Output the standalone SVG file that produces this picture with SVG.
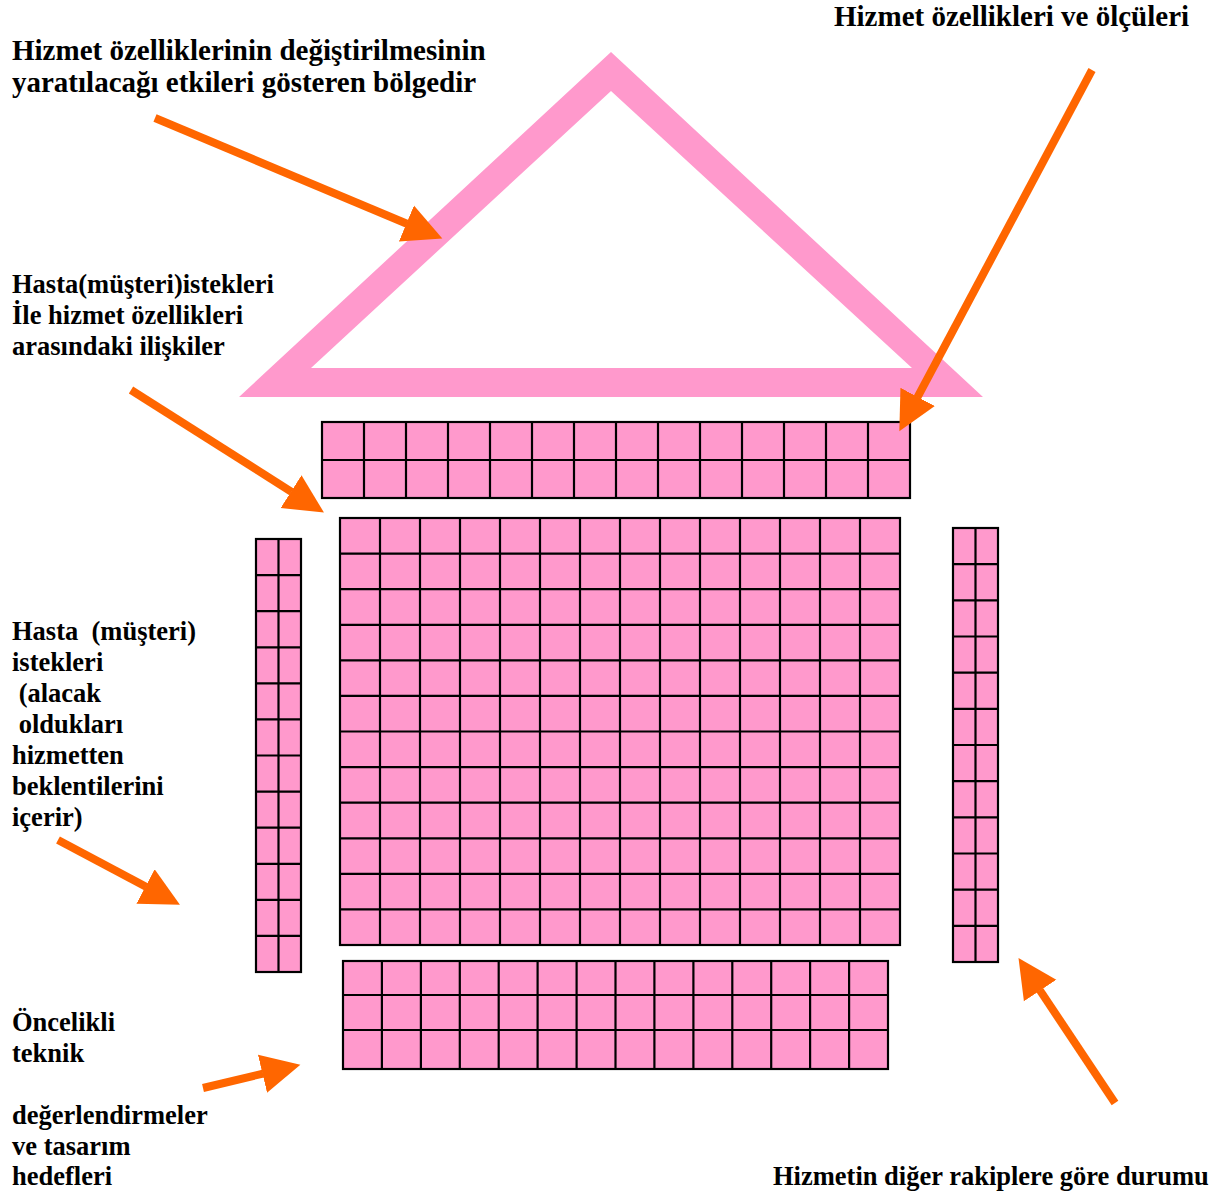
<svg xmlns="http://www.w3.org/2000/svg" width="1224" height="1193" viewBox="0 0 1224 1193">
<style>
.cell{fill:#FF99CC;stroke:#000;stroke-width:2.2}
.gl{fill:none;stroke:#000;stroke-width:2.2}
.lbl{font-family:"Liberation Serif","Times New Roman",serif;font-weight:bold;font-size:26.5px;fill:#000}
.big{font-size:29px}
.arr{fill:none;stroke:#FF6600;stroke-width:8;marker-end:url(#ah)}
</style>
<defs>
<marker id="ah" markerUnits="userSpaceOnUse" markerWidth="40" markerHeight="40" viewBox="0 -19 38 38" refX="0.5" refY="0" orient="auto">
<path d="M0,-18.5 L37,0 L0,18.5 Z" fill="#FF6600"/>
</marker>
</defs>
<rect width="1224" height="1193" fill="#fff"/>
<g id="roof">
<path d="M611,52 L239,397 L983,397 Z M611,91 L912,368 L311,368 Z" fill="#FF99CC" fill-rule="evenodd"/>
</g>
<g id="grid-top">
<rect class="cell" x="322" y="422" width="588" height="76"/>
<path class="gl" d="M322,460H910 M364,422V498 M406,422V498 M448,422V498 M490,422V498 M532,422V498 M574,422V498 M616,422V498 M658,422V498 M700,422V498 M742,422V498 M784,422V498 M826,422V498 M868,422V498"/>
</g>
<g id="grid-main">
<rect class="cell" x="340" y="518" width="560" height="427"/>
<path class="gl" d="M380,518V945 M420,518V945 M460,518V945 M500,518V945 M540,518V945 M580,518V945 M620,518V945 M660,518V945 M700,518V945 M740,518V945 M780,518V945 M820,518V945 M860,518V945 M340,553.6H900 M340,589.2H900 M340,624.8H900 M340,660.3H900 M340,695.9H900 M340,731.5H900 M340,767.1H900 M340,802.7H900 M340,838.3H900 M340,873.8H900 M340,909.4H900"/>
</g>
<g id="grid-left">
<rect class="cell" x="256" y="539" width="45" height="433"/>
<path class="gl" d="M278.5,539V972 M256,575.1H301 M256,611.2H301 M256,647.3H301 M256,683.3H301 M256,719.4H301 M256,755.5H301 M256,791.6H301 M256,827.7H301 M256,863.8H301 M256,899.8H301 M256,935.9H301"/>
</g>
<g id="grid-right">
<rect class="cell" x="953" y="528" width="45" height="434"/>
<path class="gl" d="M975.5,528V962 M953,564.2H998 M953,600.3H998 M953,636.5H998 M953,672.7H998 M953,708.8H998 M953,745H998 M953,781.2H998 M953,817.3H998 M953,853.5H998 M953,889.7H998 M953,925.8H998"/>
</g>
<g id="grid-bottom">
<rect class="cell" x="343" y="961" width="545" height="108"/>
<path class="gl" d="M343,995H888 M343,1030H888 M381.9,961V1069 M420.9,961V1069 M459.8,961V1069 M498.7,961V1069 M537.6,961V1069 M576.6,961V1069 M615.5,961V1069 M654.4,961V1069 M693.4,961V1069 M732.3,961V1069 M771.2,961V1069 M810.1,961V1069 M849.1,961V1069"/>
</g>
<g id="label-etkiler">
<text class="lbl big" x="12" y="60">Hizmet özelliklerinin değiştirilmesinin</text>
<text class="lbl big" x="12" y="92">yaratılacağı etkileri gösteren bölgedir</text>
</g>
<g id="label-olculer">
<text class="lbl big" x="834" y="26">Hizmet özellikleri ve ölçüleri</text>
</g>
<g id="label-iliskiler">
<text class="lbl" x="12" y="293">Hasta(müşteri)istekleri</text>
<text class="lbl" x="12" y="324">İle hizmet özellikleri</text>
<text class="lbl" x="12" y="355">arasındaki ilişkiler</text>
</g>
<g id="label-istekler">
<text class="lbl" x="12" y="640" xml:space="preserve">Hasta  (müşteri)</text>
<text class="lbl" x="12" y="671">istekleri</text>
<text class="lbl" x="12" y="702" xml:space="preserve"> (alacak</text>
<text class="lbl" x="12" y="733" xml:space="preserve"> oldukları</text>
<text class="lbl" x="12" y="764">hizmetten</text>
<text class="lbl" x="12" y="795">beklentilerini</text>
<text class="lbl" x="12" y="826">içerir)</text>
</g>
<g id="label-oncelikli">
<text class="lbl" x="12" y="1031">Öncelikli</text>
<text class="lbl" x="12" y="1062">teknik</text>
<text class="lbl" x="12" y="1124">değerlendirmeler</text>
<text class="lbl" x="12" y="1155">ve tasarım</text>
<text class="lbl" x="12" y="1185">hedefleri</text>
</g>
<g id="label-rakipler">
<text class="lbl" x="773" y="1185">Hizmetin diğer rakiplere göre durumu</text>
</g>
<g id="connectors">
<line class="arr" x1="155" y1="118" x2="406.9" y2="223.7"/>
<line class="arr" x1="1092" y1="70" x2="917.4" y2="397.4"/>
<line class="arr" x1="131" y1="390" x2="291.5" y2="491.9"/>
<line class="arr" x1="58" y1="840" x2="146" y2="886.7"/>
<line class="arr" x1="203" y1="1088" x2="263" y2="1073.6"/>
<line class="arr" x1="1115" y1="1103" x2="1039.8" y2="990.1"/>
</g>
</svg>
